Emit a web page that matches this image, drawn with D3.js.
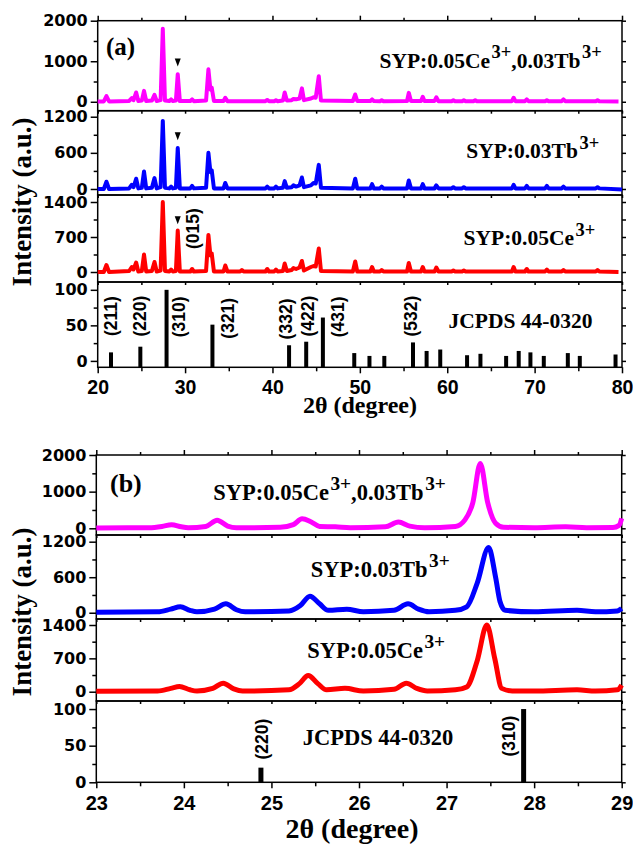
<!DOCTYPE html>
<html>
<head>
<meta charset="utf-8">
<script src="https://cdn.jsdelivr.net/npm/d3@7"></script>
<style>
  body { margin: 0; background: #fff; }
</style>
</head>
<body>
<div id="chart"></div>
<script>
// ---- data ----
// panel (a): full scan 20-80 deg, [2theta, intensity]
const scanA_CeTb = [
  [20.0, 10], [20.7, 10], [21.0, 140], [21.3, 10], [23.6, 20], [23.9, 90], [24.1, 40], [24.4, 230], [24.65, 20],
  [25.05, 30], [25.3, 270], [25.55, 20], [26.2, 30], [26.5, 170], [26.75, 20], [27.2, 40], [27.45, 1800], [27.7, 30],
  [28.2, 20], [28.4, 60], [28.6, 20], [28.95, 30], [29.16, 680], [29.4, 20], [30.6, 20], [30.8, 60], [31.0, 15],
  [32.4, 30], [32.67, 800], [32.9, 300], [33.05, 350], [33.3, 20], [34.4, 20], [34.6, 100], [34.85, 15],
  [39.2, 15], [39.4, 45], [39.6, 15], [40.2, 15], [40.4, 40], [40.6, 15], [41.2, 30], [41.4, 230], [41.65, 30],
  [42.2, 40], [42.4, 70], [42.7, 60], [43.1, 80], [43.37, 330], [43.6, 40], [44.4, 80], [44.7, 110], [44.95, 100],
  [45.3, 630], [45.55, 30], [49.2, 20], [49.47, 180], [49.7, 20], [51.2, 20], [51.4, 60], [51.6, 20],
  [52.3, 15], [52.5, 40], [52.7, 15], [55.4, 20], [55.6, 220], [55.85, 20], [57.0, 20], [57.2, 120], [57.4, 20],
  [58.55, 20], [58.75, 110], [59.0, 15], [60.5, 15], [60.7, 40], [60.9, 15], [61.7, 15], [61.9, 40], [62.1, 15],
  [63.0, 15], [63.2, 40], [63.4, 15], [67.4, 15], [67.6, 100], [67.8, 15], [68.9, 15], [69.1, 60], [69.3, 15],
  [71.2, 15], [71.4, 40], [71.6, 15], [73.1, 15], [73.3, 60], [73.5, 15], [77.0, 15], [77.2, 40], [77.4, 15], [79.6, 10]
];
const scanA_Tb = [
  [20.0, 0], [20.7, 0], [21.0, 120], [21.3, 0], [23.6, 10], [23.9, 70], [24.1, 30], [24.4, 170], [24.65, 10],
  [25.05, 20], [25.3, 290], [25.55, 10], [26.2, 20], [26.5, 180], [26.75, 10], [27.2, 30], [27.45, 1130], [27.7, 20],
  [28.2, 10], [28.4, 40], [28.6, 10], [28.95, 20], [29.16, 680], [29.4, 10], [30.6, 10], [30.8, 50], [31.0, 10],
  [32.4, 20], [32.67, 600], [32.9, 280], [33.05, 310], [33.3, 10], [34.4, 10], [34.6, 100], [34.85, 10],
  [39.2, 10], [39.4, 40], [39.6, 10], [40.2, 10], [40.4, 40], [40.6, 10], [41.2, 20], [41.4, 130], [41.65, 20],
  [42.2, 30], [42.4, 60], [42.7, 40], [43.1, 60], [43.37, 190], [43.6, 30], [44.4, 60], [44.7, 100], [44.95, 90],
  [45.3, 400], [45.55, 20], [49.2, 10], [49.47, 170], [49.7, 10], [51.2, 10], [51.4, 80], [51.6, 10],
  [52.3, 10], [52.5, 40], [52.7, 10], [55.4, 10], [55.6, 140], [55.85, 10], [57.0, 10], [57.2, 80], [57.4, 10],
  [58.55, 10], [58.75, 60], [59.0, 10], [60.5, 10], [60.7, 30], [60.9, 10], [61.7, 10], [61.9, 30], [62.1, 10],
  [67.4, 10], [67.6, 70], [67.8, 10], [68.9, 10], [69.1, 50], [69.3, 10], [71.2, 10], [71.4, 50], [71.6, 10],
  [73.1, 10], [73.3, 40], [73.5, 10], [77.0, 10], [77.2, 30], [77.4, 10], [80.0, -10]
];
const scanA_Ce = [
  [20.0, 0], [20.7, 0], [21.0, 140], [21.3, 0], [23.6, 20], [23.9, 100], [24.1, 50], [24.4, 190], [24.65, 10],
  [25.05, 20], [25.3, 350], [25.55, 10], [26.2, 20], [26.5, 200], [26.75, 10], [27.2, 30], [27.45, 1400], [27.7, 20],
  [28.2, 10], [28.4, 50], [28.6, 10], [28.95, 20], [29.16, 830], [29.4, 10], [30.6, 10], [30.8, 60], [31.0, 10],
  [32.4, 20], [32.67, 740], [32.9, 330], [33.05, 370], [33.3, 10], [34.4, 10], [34.6, 130], [34.85, 10],
  [36.3, 10], [36.5, 40], [36.7, 10], [39.2, 10], [39.4, 60], [39.6, 10], [40.2, 10], [40.4, 50], [40.6, 10],
  [41.2, 20], [41.4, 170], [41.65, 20], [42.2, 40], [42.4, 80], [42.7, 60], [43.1, 90], [43.37, 220], [43.6, 30],
  [44.4, 100], [44.7, 120], [44.95, 110], [45.3, 470], [45.55, 20], [49.2, 10], [49.47, 210], [49.7, 10],
  [51.2, 10], [51.4, 100], [51.6, 10], [52.3, 10], [52.5, 40], [52.7, 10], [55.4, 10], [55.6, 180], [55.85, 10],
  [57.0, 10], [57.2, 100], [57.4, 10], [58.55, 10], [58.75, 90], [59.0, 10], [60.5, 10], [60.7, 30], [60.9, 10],
  [61.7, 10], [61.9, 30], [62.1, 10], [67.4, 10], [67.6, 100], [67.8, 10], [68.9, 10], [69.1, 60], [69.3, 10],
  [71.2, 10], [71.4, 50], [71.6, 10], [73.1, 10], [73.3, 40], [73.5, 10], [77.0, 10], [77.2, 40], [77.4, 10], [79.6, 0]
];

// panel (b): zoom 23-29 deg
const scanB_CeTb = [
  [23.0, 10], [23.6, 15], [23.75, 50], [23.86, 100], [23.97, 40], [24.05, 15], [24.25, 50], [24.38, 220],
  [24.5, 60], [24.6, 15], [25.1, 30], [25.25, 100], [25.35, 260], [25.45, 180], [25.55, 50], [25.73, 40],
  [25.9, 15], [26.3, 40], [26.45, 170], [26.58, 60], [26.75, 15], [27.1, 50], [27.21, 230], [27.3, 700],
  [27.385, 1770], [27.47, 700], [27.56, 140], [27.65, 30], [28.0, 15], [28.36, 40], [28.6, 15], [28.9, 20],
  [28.97, 80], [29.0, 270]
];
const scanB_Tb = [
  [23.0, 10], [23.7, 15], [23.85, 60], [23.96, 100], [24.07, 40], [24.15, 15], [24.35, 60], [24.48, 150],
  [24.6, 50], [24.7, 15], [25.2, 30], [25.33, 120], [25.44, 280], [25.55, 150], [25.65, 40], [25.86, 60],
  [26.05, 15], [26.4, 40], [26.56, 150], [26.68, 60], [26.8, 15], [27.1, 40], [27.23, 100], [27.35, 500],
  [27.48, 1100], [27.56, 600], [27.61, 190], [27.67, 40], [28.0, 15], [28.49, 40], [28.7, 15], [28.95, 30], [29.0, 70]
];
const scanB_Ce = [
  [23.0, 10], [23.7, 15], [23.85, 70], [23.95, 110], [24.07, 40], [24.15, 15], [24.33, 70], [24.45, 180],
  [24.57, 60], [24.67, 15], [25.2, 40], [25.32, 170], [25.42, 340], [25.53, 170], [25.63, 40], [25.84, 70],
  [26.05, 15], [26.4, 50], [26.54, 180], [26.66, 70], [26.78, 15], [27.1, 40], [27.23, 100], [27.35, 650],
  [27.46, 1400], [27.55, 700], [27.63, 70], [27.75, 15], [28.0, 15], [28.49, 40], [28.7, 15], [28.95, 40], [29.0, 140]
];

// JCPDS 44-0320 reference lines
const refPos = [21.52, 24.88, 27.88, 33.13, 41.9, 43.86, 45.77, 49.36, 51.1, 52.8, 56.08, 57.64, 59.2,
  62.27, 63.8, 66.74, 68.18, 69.52, 71.05, 73.8, 75.17, 79.26];
const refInt = [12, 20, 100, 51, 22, 27, 61, 11, 7, 7, 26, 14, 16, 8, 10, 7, 14, 12, 7, 11, 7, 9];

// hkl labels: text and 2theta of label centre
const hklA = ['(211)', '(220)', '(310)', '(321)', '(332)', '(422)', '(431)', '(532)'];
const hklPosA = [21.52, 24.88, 29.3, 34.87, 41.5, 44.03, 47.47, 55.9];
const hklB = ['(220)', '(310)'];
const hklPosB = [24.89, 27.71];

// triangle markers on the 29.16 peak: [2theta, intensity]
const markCeTb = [29.16, 970];
const markTb = [29.16, 874];
const markCe = [29.16, 1034];

// ticks
const xTicksA = [20, 30, 40, 50, 60, 70, 80];
const xMinorA = [25, 35, 45, 55, 65, 75];
const xTicksB = [23, 24, 25, 26, 27, 28, 29];
const xMinorB = [23.5, 24.5, 25.5, 26.5, 27.5, 28.5];
const yTicksCeTb = [0, 1000, 2000], yMinorCeTb = [500, 1500];
const yTicksTb = [0, 600, 1200], yMinorTb = [300, 900];
const yTicksCe = [0, 700, 1400], yMinorCe = [350, 1050];
const yTicksRef = [0, 50, 100], yMinorRef = [25, 75];

// series names (text, superscript?)
const nameCeTb = [['SYP:0.05Ce', false], ['3+', true], [',0.03Tb', false], ['3+', true]];
const nameTb = [['SYP:0.03Tb', false], ['3+', true]];
const nameCe = [['SYP:0.05Ce', false], ['3+', true]];
const nameRef = [['JCPDS 44-0320', false]];

const SERIF = "'Liberation Serif','Times New Roman',serif";
const SANS = "'Liberation Sans',Arial,sans-serif";
const DJV = "'DejaVu Sans',sans-serif";

const svg = d3.select('#chart').append('svg')
  .attr('width', 633)
  .attr('height', 847);

function rotLabel(g, px, py, txt) {
  g.append('text')
    .attr('transform', `translate(${px},${py}) rotate(-90)`)
    .attr('text-anchor', 'middle')
    .attr('dominant-baseline', 'central')
    .attr('font-family', SANS).attr('font-weight', 'bold').attr('font-size', 17.5)
    .text(txt);
}

// one stacked panel
function drawPanel(p) {
  const x = d3.scaleLinear().domain(p.xDomain).range(p.xRange);
  const g = svg.append('g');

  p.subs.forEach((s, i) => {
    const y = d3.scaleLinear().domain(s.domain).range([s.y1, s.y0]);
    const last = i === p.subs.length - 1;

    // frame
    g.append('rect')
      .attr('x', p.xRange[0]).attr('y', s.y0)
      .attr('width', p.xRange[1] - p.xRange[0]).attr('height', s.y1 - s.y0)
      .attr('fill', 'none').attr('stroke', '#000').attr('stroke-width', 1.5);

    // left axis
    const left = g.append('g').attr('transform', `translate(${p.xRange[0]},0)`);
    left.call(d3.axisLeft(y).tickValues(s.ticks).tickSize(7).tickPadding(3).tickFormat(d3.format('d')));
    left.append('g').call(d3.axisLeft(y).tickValues(s.minor).tickSize(4).tickFormat(''));
    // right axis
    const right = g.append('g').attr('transform', `translate(${p.xRange[1]},0)`);
    right.call(d3.axisRight(y).tickValues(s.ticks.concat(s.minor)).tickSize(4).tickFormat(''));

    // bottom ticks
    const bot = g.append('g').attr('transform', `translate(0,${s.y1})`);
    if (last) {
      bot.call(d3.axisBottom(x).tickValues(p.xTicks).tickSize(6).tickPadding(p.xPad).tickFormat(d3.format('d')));
      bot.append('g').call(d3.axisBottom(x).tickValues(p.xMinor).tickSize(4).tickFormat(''));
      bot.selectAll('text').attr('font-family', SANS).attr('font-weight', 'bold')
        .attr('font-size', p.xFont).attr('fill', '#000');
    } else {
      bot.call(d3.axisBottom(x).tickValues(p.xTicks.concat(p.xMinor)).tickSize(3).tickFormat(''));
    }
    if (i === 0) {
      const top = g.append('g').attr('transform', `translate(0,${s.y0})`);
      top.call(d3.axisTop(x).tickValues(p.xTicks).tickSize(5).tickFormat(''));
      top.append('g').call(d3.axisTop(x).tickValues(p.xMinor).tickSize(3).tickFormat(''));
    }

    g.selectAll('.domain').remove();
    g.selectAll('.tick line').attr('stroke', '#000').attr('stroke-width', 1.5);
    left.selectAll('text').attr('font-family', DJV).attr('font-weight', 'bold')
      .attr('font-size', 16).attr('fill', '#000');

    // data
    if (s.scan) {
      g.append('path')
        .datum(s.scan)
        .attr('d', d3.line().curve(p.curve).x(d => x(d[0])).y(d => y(d[1])))
        .attr('fill', 'none')
        .attr('stroke', s.color)
        .attr('stroke-width', p.lineW)
        .attr('stroke-linejoin', 'round');
    } else {
      const refs = refPos.map((d, k) => [d, refInt[k]])
        .filter(d => d[0] >= p.xDomain[0] && d[0] <= p.xDomain[1]);
      g.selectAll(null).data(refs).enter().append('line')
        .attr('x1', d => x(d[0])).attr('x2', d => x(d[0]))
        .attr('y1', s.y1).attr('y2', d => y(d[1]))
        .attr('stroke', '#000').attr('stroke-width', p.barW);
      s.hkl.forEach((t, k) => rotLabel(g, x(s.hklPos[k]), y(s.hklY[k]), t));
    }

    if (s.extraHkl) rotLabel(g, x(s.extraHkl[1]), y(s.extraHkl[2]), s.extraHkl[0]);

    if (s.mark) {
      const mx = x(s.mark[0]), my = y(s.mark[1]);
      g.append('path')
        .attr('d', `M${mx - 3},${my - 4}L${mx + 3},${my - 4}L${mx},${my + 4}Z`)
        .attr('fill', '#000');
    }

    // series name
    const fs = p.nameFont;
    const t = g.append('text')
      .attr('x', x(s.namePos[0])).attr('y', y(s.namePos[1]))
      .attr('font-family', SERIF).attr('font-weight', 'bold').attr('font-size', fs);
    let up = 0;
    s.name.forEach(([txt, sup]) => {
      const shift = sup ? -fs * 0.45 : 0;
      t.append('tspan').attr('dy', shift - up).attr('dx', sup ? 1.5 : 0)
        .attr('font-size', sup ? fs * 0.86 : fs).text(txt);
      up = shift;
    });
  });

  // panel letter
  svg.append('text')
    .attr('x', p.letterPos[0]).attr('y', p.letterPos[1])
    .attr('font-family', SERIF).attr('font-weight', 'bold').attr('font-size', p.letterFont)
    .text(p.letter);

  // axis titles
  svg.append('text')
    .attr('transform', `translate(${p.yTitleX},${p.yTitleY}) rotate(-90)`)
    .attr('text-anchor', 'middle')
    .attr('dominant-baseline', 'central')
    .attr('font-family', SERIF).attr('font-weight', 'bold').attr('font-size', p.yTitleFont)
    .text('Intensity (a.u.)');
  svg.append('text')
    .attr('x', p.xTitlePos[0]).attr('y', p.xTitlePos[1])
    .attr('text-anchor', 'middle')
    .attr('font-family', SERIF).attr('font-weight', 'bold').attr('font-size', p.xTitleFont)
    .text('2\u03B8 (degree)');
}

drawPanel({
  xDomain: [20, 80], xRange: [97.7, 622], xTicks: xTicksA, xMinor: xMinorA, xPad: 7, xFont: 19.5,
  curve: d3.curveLinear, lineW: 4, barW: 4, nameFont: 21.5, letter: '(a)', letterPos: [106, 55], letterFont: 25,
  yTitleX: 22, yTitleY: 202, yTitleFont: 27, xTitlePos: [360, 413], xTitleFont: 24,
  subs: [
    { y0: 20.7, y1: 110.7, domain: [-220, 2000], ticks: yTicksCeTb, minor: yMinorCeTb, scan: scanA_CeTb,
      color: '#ff00ff', name: nameCeTb, namePos: [52.25, 832], mark: markCeTb },
    { y0: 110.7, y1: 195, domain: [-100, 1300], ticks: yTicksTb, minor: yMinorTb, scan: scanA_Tb,
      color: '#0000ff', name: nameTb, namePos: [62.17, 510], mark: markTb },
    { y0: 195, y1: 282, domain: [-200, 1540], ticks: yTicksCe, minor: yMinorCe, scan: scanA_Ce,
      color: '#ff0000', name: nameCe, namePos: [61.87, 534], mark: markCe, extraHkl: ['(015)', 30.95, 868] },
    { y0: 282, y1: 367.3, domain: [-9, 111], ticks: yTicksRef, minor: yMinorRef,
      hkl: hklA, hklPos: hklPosA, hklY: [63, 63, 62, 60, 59, 63, 62, 63], name: nameRef, namePos: [60.15, 45.8] }
  ]
});

drawPanel({
  xDomain: [23, 29], xRange: [96.3, 621.7], xTicks: xTicksB, xMinor: xMinorB, xPad: 8, xFont: 20,
  curve: d3.curveMonotoneX, lineW: 5, barW: 5, nameFont: 22.5, letter: '(b)', letterPos: [110, 491.7], letterFont: 26,
  yTitleX: 22, yTitleY: 612, yTitleFont: 27, xTitlePos: [352, 838], xTitleFont: 28,
  subs: [
    { y0: 455, y1: 535, domain: [-183, 2000], ticks: yTicksCeTb, minor: yMinorCeTb, scan: scanB_CeTb,
      color: '#ff00ff', name: nameCeTb, namePos: [24.336, 772] },
    { y0: 535, y1: 619, domain: [-106, 1313], ticks: yTicksTb, minor: yMinorTb, scan: scanB_Tb,
      color: '#0000ff', name: nameTb, namePos: [25.448, 608] },
    { y0: 619, y1: 701, domain: [-195, 1526], ticks: yTicksCe, minor: yMinorCe, scan: scanB_Ce,
      color: '#ff0000', name: nameCe, namePos: [25.41, 701] },
    { y0: 701, y1: 782.3, domain: [0, 111], ticks: yTicksRef, minor: yMinorRef,
      hkl: hklB, hklPos: hklPosB, hklY: [59, 63], name: nameRef, namePos: [25.357, 50.9] }
  ]
});
</script>
</body>
</html>
